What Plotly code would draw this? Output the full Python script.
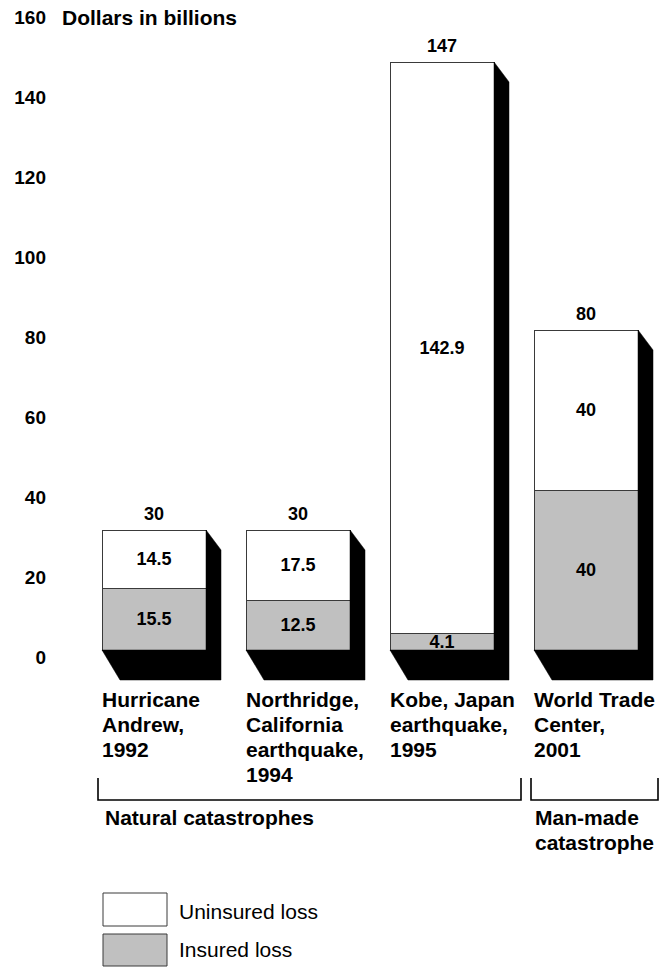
import plotly.graph_objects as go

# ---- data ----
categories = [
    "Hurricane<br>Andrew,<br>1992",
    "Northridge,<br>California<br>earthquake,<br>1994",
    "Kobe, Japan<br>earthquake,<br>1995",
    "World Trade<br>Center,<br>2001",
]
insured = [15.5, 12.5, 4.1, 40]
uninsured = [14.5, 17.5, 142.9, 40]
totals = [30, 30, 147, 80]
y_ticks = [0, 20, 40, 60, 80, 100, 120, 140, 160]
groups = ["Natural catastrophes", "Man-made<br>catastrophe"]
legend_labels = ["Uninsured loss", "Insured loss"]
axis_title = "Dollars in billions"

# ---- layout constants ----
W, H = 661, 967
ML, MR, MT, MB = 49, 3, 0, 277
XR = [-0.7292, 3.5]
YR = [-10, 162.5]
PW = W - ML - MR
PH = H - MT - MB
SX = PW / (XR[1] - XR[0])   # px per x unit
SY = PH / (YR[1] - YR[0])   # px per y unit
BAR_W = 104 / SX

FONT = "Liberation Sans, Arial, Helvetica, sans-serif"
GRAY = "#c0c0c0"
EDGE = "#3a3a3a"
LINE_GAP = 25.3


def pxp(x):
    return (x - ML) / PW


def pyp(y):
    return (MT + PH - y) / PH


xs = list(range(len(categories)))

fig = go.Figure()

# front faces (stacked bars)
fig.add_trace(go.Bar(
    x=xs, y=insured, width=BAR_W,
    marker=dict(color=GRAY, line=dict(color=EDGE, width=1)),
    text=[str(v) for v in insured], textposition="inside", insidetextanchor="middle",
    textfont=dict(family=FONT, size=18, color="black", weight="bold"),
    hoverinfo="skip", showlegend=False,
))
fig.add_trace(go.Bar(
    x=xs, y=uninsured, width=BAR_W,
    marker=dict(color="white", line=dict(color=EDGE, width=1)),
    text=[str(v) for v in uninsured], textposition="inside", insidetextanchor="middle",
    textfont=dict(family=FONT, size=18, color="black", weight="bold"),
    hoverinfo="skip", showlegend=False,
))

# 3-D shadow (side and bottom faces) derived from each bar
dxt, dyt = 15 / SX, 20 / SY     # top-right bevel
dxr = 15 / SX                   # right face depth
dxb, dyb = 18 / SX, 30 / SY     # bottom bevel / depth
for x, t in zip(xs, totals):
    L, R = x - BAR_W / 2, x + BAR_W / 2
    fig.add_trace(go.Scatter(
        x=[R, R + dxt, R + dxr, L + dxb, L, R, R],
        y=[t, t - dyt, -dyb, -dyb, 0, 0, t],
        mode="lines", fill="toself", fillcolor="black",
        line=dict(color="black", width=0.5),
        hoverinfo="skip", showlegend=False,
    ))

annotations = []
# totals above bars
for x, t in zip(xs, totals):
    annotations.append(dict(
        x=x, y=t, xref="x", yref="y", text=str(t), showarrow=False,
        yanchor="middle", yshift=16,
        font=dict(family=FONT, size=18, color="black", weight="bold"),
    ))
# category labels (one annotation per line for exact line spacing)
for x, c in zip(xs, categories):
    for k, line in enumerate(c.split("<br>")):
        annotations.append(dict(
            x=x - BAR_W / 2, y=pyp(699 + k * LINE_GAP), xref="x", yref="paper",
            text=line, showarrow=False, xanchor="left", yanchor="middle", xshift=-2,
            font=dict(family=FONT, size=21, color="black", weight="bold"),
        ))
# axis title
annotations.append(dict(
    x=pxp(60), y=pyp(17), xref="paper", yref="paper", text=axis_title, showarrow=False,
    xanchor="left", yanchor="middle",
    font=dict(family=FONT, size=21, color="black", weight="bold"),
))
# group labels
for gx, g in zip([103, 533], groups):
    for k, line in enumerate(g.split("<br>")):
        annotations.append(dict(
            x=pxp(gx), y=pyp(817 + k * LINE_GAP), xref="paper", yref="paper",
            text=line, showarrow=False, xanchor="left", yanchor="middle",
            font=dict(family=FONT, size=21, color="black", weight="bold"),
        ))
# legend labels
for lab, yc in zip(legend_labels, [911, 950]):
    annotations.append(dict(
        x=pxp(177), y=pyp(yc), xref="paper", yref="paper", text=lab, showarrow=False,
        xanchor="left", yanchor="middle",
        font=dict(family=FONT, size=21, color="black"),
    ))

shapes = []
# brackets
for x0, x1 in [(98, 521), (531, 658)]:
    shapes.append(dict(
        type="path", xref="paper", yref="paper",
        path=f"M {pxp(x0)},{pyp(778)} L {pxp(x0)},{pyp(800)} L {pxp(x1)},{pyp(800)} L {pxp(x1)},{pyp(778)}",
        line=dict(color="black", width=1.6),
    ))
# legend boxes
for fill, (y0, y1) in zip(["white", GRAY], [(893, 926), (934, 966)]):
    shapes.append(dict(
        type="rect", xref="paper", yref="paper",
        x0=pxp(103), x1=pxp(167), y0=pyp(y1), y1=pyp(y0),
        fillcolor=fill, line=dict(color=EDGE, width=1),
    ))

fig.update_layout(
    width=W, height=H,
    margin=dict(l=ML, r=MR, t=MT, b=MB, pad=0),
    barmode="stack",
    plot_bgcolor="white", paper_bgcolor="white",
    showlegend=False,
    hovermode=False,
    uniformtext=dict(minsize=18, mode="show"),
    xaxis=dict(range=XR, visible=False, fixedrange=True),
    yaxis=dict(
        range=YR, tickvals=y_ticks, ticktext=[str(v) for v in y_ticks],
        showgrid=False, zeroline=False, showline=False, ticks="",
        tickfont=dict(family=FONT, size=19, color="black", weight="bold"),
        ticklabelshift=7, ticklabelstandoff=2, fixedrange=True,
    ),
    annotations=annotations,
    shapes=shapes,
)

fig.write_html(
    "out.html",
    config={"displayModeBar": False, "staticPlot": True},
    post_script="document.body.style.margin='0';document.body.style.overflow='hidden';",
)
